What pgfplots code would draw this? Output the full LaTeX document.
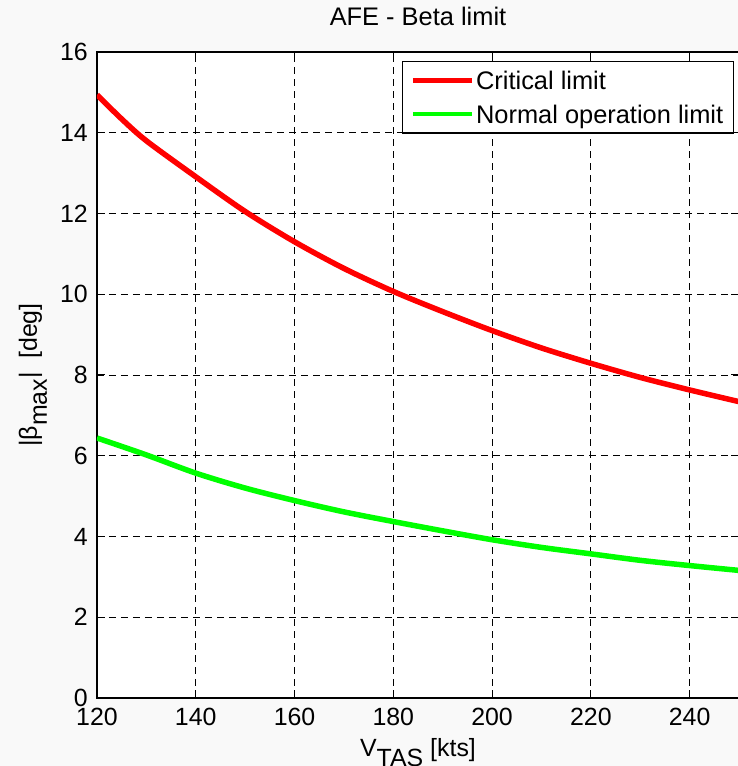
\documentclass[border=0pt]{standalone}
\usepackage{fontspec}
\setmainfont{Liberation Sans}
\usepackage{pgfplots}
\pgfplotsset{compat=1.18}
\definecolor{figbg}{RGB}{249,249,249}
\begin{document}
\begin{tikzpicture}
\fill[figbg] (-97bp,-68bp) rectangle (641bp,698bp);
\begin{axis}[
  at={(0,0)}, anchor=south west,
  scale only axis, width=642bp, height=646bp,
  xmin=120, xmax=250, ymin=0, ymax=16,
  xtick={120,140,...,240}, ytick={0,2,...,16},
  axis background/.style={fill=white},
  axis line style={black, line width=1.3bp},
  tick style={black, line width=1bp},
  major tick length=8bp,
  tick align=inside,
  grid=major,
  major grid style={black, dash pattern=on 7bp off 5bp, line width=0.8bp},
  /pgf/number format/assume math mode=true,
  ticklabel style={font=\fontsize{25}{25}\selectfont, inner sep=0pt},
  xticklabel style={yshift=-10bp},
  yticklabel style={xshift=-9bp},
  title={AFE - Beta limit},
  title style={at={(axis description cs:0.5,1.0325)}, anchor=base, font=\fontsize{25.5}{25.5}\selectfont, inner sep=0pt},
  xlabel={V\raisebox{-10bp}{TAS} [kts]},
  xlabel style={at={(axis description cs:0.5,-0.0898)}, anchor=base, font=\fontsize{25}{25}\selectfont, inner sep=0pt},
  ylabel={|β\raisebox{-10bp}{max}|\ \ [deg]},
  ylabel style={at={(axis description cs:-0.0935,0.5)}, anchor=base, font=\fontsize{25}{25}\selectfont, inner sep=0pt},
  legend style={at={(axis description cs:0.992,0.9865)}, anchor=north east, draw=black, line width=1.3bp, fill=white,
    font=\fontsize{25.5}{25.5}\selectfont, inner xsep=8bp, inner ysep=4.6bp, row sep=4.4bp,
    nodes={inner sep=2bp, text height=22bp, text depth=3bp}, cells={anchor=west}},
  legend image code/.code={\draw[#1, line width=4.5bp] (0bp,0bp) -- (59bp,0bp);},
]
\addplot[red, line width=5.5bp, smooth] coordinates {
(120,14.94) (125,14.34) (130,13.80) (140,12.91) (150,12.05) (160,11.30) (170,10.64)
(180,10.07) (190,9.57) (200,9.10) (210,8.67) (220,8.29) (230,7.94) (240,7.63) (250,7.34)};
\addlegendentry{Critical limit}
\addplot[green, line width=5.5bp, smooth] coordinates {
(120,6.44) (130,6.02) (140,5.57) (150,5.20) (160,4.89) (170,4.61) (180,4.37)
(190,4.14) (200,3.92) (210,3.73) (220,3.57) (230,3.41) (240,3.28) (250,3.16)};
\addlegendentry{Normal operation limit}
\end{axis}
\pgfresetboundingbox
\path[use as bounding box] (-97bp,-68bp) rectangle (641bp,698bp);
\end{tikzpicture}
\end{document}
